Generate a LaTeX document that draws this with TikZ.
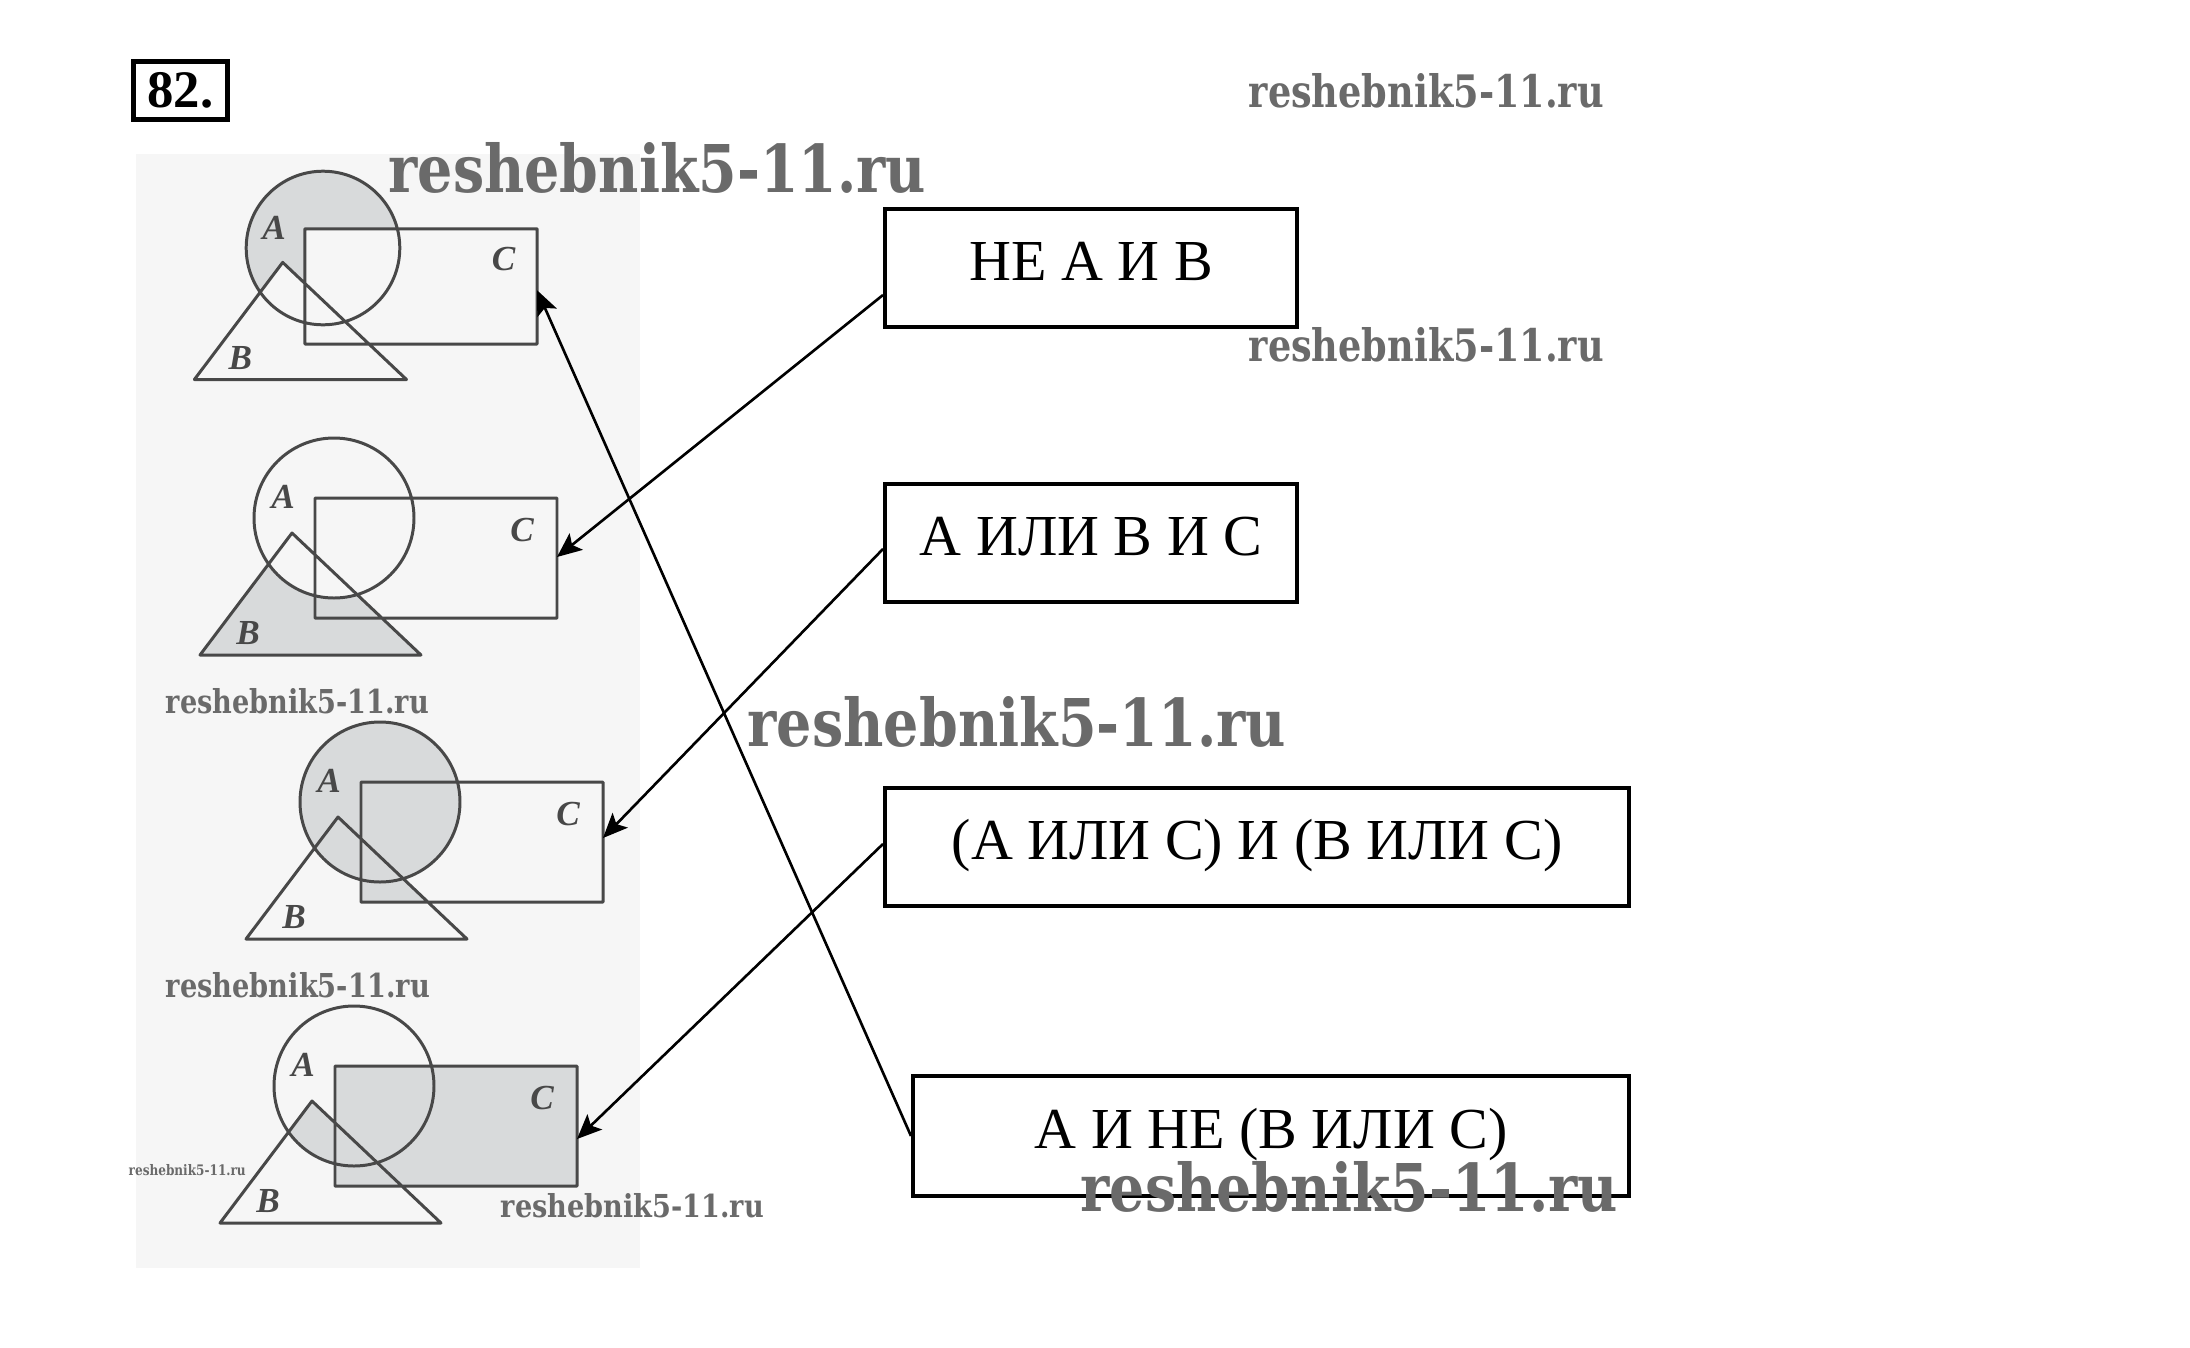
\documentclass[tikz,border=0pt]{standalone}
\usepackage{fontspec}
\usepackage{xcolor}
\usetikzlibrary{arrows.meta}

\setmainfont{Liberation Serif}
\newfontfamily\wmfont{DejaVu Serif}

\definecolor{panel}{HTML}{F6F6F6}
\definecolor{venngray}{HTML}{D8DADB}
\definecolor{edge}{HTML}{484848}
\definecolor{wmgray}{HTML}{6A6A6A}

\newcommand{\wm}[2]{\resizebox{#1}{#2}{\wmfont\bfseries reshebnik5-11.ru}}

\begin{document}
\begin{tikzpicture}[x=0.01cm, y=-0.01cm,
		venn/.style={edge, line width=0.85pt, line join=round},
		lbl/.style={edge, font=\fontsize{10}{12}\selectfont\bfseries\itshape},
		formula/.style={draw, line width=1.1pt, minimum height=1.18cm, inner sep=0pt, anchor=north west,
			font=\fontsize{16.5}{18}\selectfont, text height=11pt, text depth=3.6pt},
		wmk/.style={wmgray, anchor=base west, inner sep=0pt},
		link/.style={-{Stealth[length=7pt, width=6pt, inset=1.5pt]}, line width=0.75pt}]
		\def\setA{(0,0) circle (80)}
		\def\setB{(-42,15) -- (-134,137) -- (87,137) -- cycle}
		\def\setC{(-19,-20) rectangle (223,100)}
	
		\useasboundingbox (0,0) rectangle (2190,1348);
		\fill[panel] (136,154) rectangle (640,1268);
	
		\node[draw, line width=1.4pt, minimum width=0.94cm, minimum height=0.58cm, inner sep=0pt,
			anchor=north west, font=\fontsize{15}{16}\selectfont\bfseries] (num) at (131,59) {82.};
	
		\begin{scope}[shift={(323,248)}, scale=0.96]
			\fill[venngray] \setA;
			\fill[panel] \setB;
			\fill[panel] \setC;
			\draw[venn] \setA \setB \setC;
			\node[lbl] at (-51,-21) {A};
			\node[lbl] at (-86,115) {B};
			\node[lbl] at (188,12) {C};
			\coordinate (set1) at (223,44);
		\end{scope}
	
		\begin{scope}[shift={(334,518)}]
			\fill[venngray] \setB;
			\fill[panel] \setA;
			\draw[venn] \setA \setB \setC;
			\node[lbl] at (-51,-21) {A};
			\node[lbl] at (-86,115) {B};
			\node[lbl] at (188,12) {C};
			\coordinate (set2) at (223,39);
		\end{scope}
	
		\begin{scope}[shift={(380,802)}]
			\fill[venngray] \setA;
			\begin{scope}
				\clip \setC;
				\fill[venngray] \setB;
			\end{scope}
			\draw[venn] \setA \setB \setC;
			\node[lbl] at (-51,-21) {A};
			\node[lbl] at (-86,115) {B};
			\node[lbl] at (188,12) {C};
			\coordinate (set3) at (223,36);
		\end{scope}
	
		\begin{scope}[shift={(354,1086)}]
			\fill[venngray] \setC;
			\begin{scope}
				\clip \setA;
				\fill[venngray] \setB;
			\end{scope}
			\draw[venn] \setA \setB \setC;
			\node[lbl] at (-51,-21) {A};
			\node[lbl] at (-86,115) {B};
			\node[lbl] at (188,12) {C};
			\coordinate (set4) at (223,53);
		\end{scope}
	
		\node[formula, minimum width=4.12cm] (notab) at (883,207) {НЕ А И В};
		\node[formula, minimum width=4.12cm] (aorbc) at (883,482) {А ИЛИ В И С};
		\node[formula, minimum width=7.44cm] (acbc) at (883,786) {(А ИЛИ С) И (В ИЛИ С)};
		\node[formula, minimum width=7.16cm, minimum height=1.2cm] (anotbc) at (911,1074) {А И НЕ (В ИЛИ С)};
	
		\draw[link] ([yshift=-0.27cm]notab.west) -- (set2);
		\draw[link] ([yshift=-0.06cm]aorbc.west) -- (set3);
		\draw[link] ([yshift=0.03cm]acbc.west) -- (set4);
		\draw[link] (anotbc.west) -- (set1);
	
		\foreach \x/\y/\w/\h [count=\i] in {388/192/5.37/0.50, 1248/107/3.55/0.34, 1248/361/3.55/0.34,
			165/713/2.63/0.25, 747/746/5.38/0.50, 165/997/2.64/0.25, 128/1175/1.17/0.11,
			500/1217/2.63/0.24, 1080/1211/5.37/0.50}
			\node[wmk] (wm\i) at (\x,\y) {\wm{\w cm}{\h cm}};
	\end{tikzpicture}
\end{document}
